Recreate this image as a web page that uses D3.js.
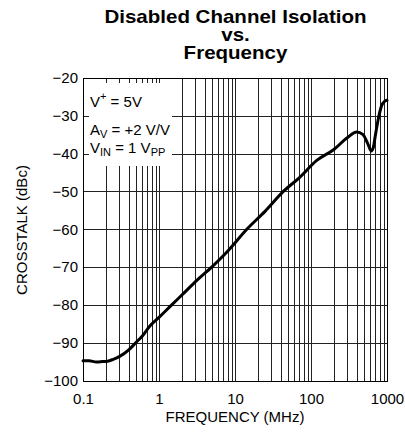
<!DOCTYPE html>
<html>
<head>
<meta charset="utf-8">
<script src="https://cdn.jsdelivr.net/npm/d3@7"></script>
<style>
  html, body { margin: 0; padding: 0; background: #fff; }
  svg { display: block; font-family: "Liberation Sans", Arial, Helvetica, sans-serif; }
</style>
</head>
<body>
<svg id="chart" width="405" height="439"></svg>
<script>
// Crosstalk of a disabled channel versus frequency
const freqMHz = [0.1, 0.12, 0.15, 0.18, 0.21, 0.25, 0.3, 0.4, 0.5, 0.6, 0.75, 1, 1.47, 2, 3, 4.93, 8, 14.3, 25, 43.3, 70, 119, 200, 300, 400, 480, 560, 620, 660, 700, 770, 850, 930, 1000];
const crosstalkDb = [-94.8, -94.8, -95.1, -95.0, -94.9, -94.4, -93.7, -91.9, -89.9, -88.3, -85.7, -83.3, -80, -77.4, -73.9, -70, -65.8, -60, -55.2, -50, -46.4, -41.8, -38.9, -35.8, -34.3, -34.9, -37.4, -39.3, -38.4, -35.4, -30.7, -27.3, -26.2, -25.9];

const xTickValues = [0.1, 1, 10, 100, 1000];
const xTickLabels = ["0.1", "1", "10", "100", "1000"];
const yTickValues = [-20, -30, -40, -50, -60, -70, -80, -90, -100];

const titleLines = ["Disabled Channel Isolation", "vs.", "Frequency"];

const plot = { left: 83, right: 387, top: 78, bottom: 380.5 };

const svg = d3.select("#chart");
svg.append("rect").attr("width", 405).attr("height", 439).attr("fill", "#fff");

const x = d3.scaleLog().domain([0.1, 1000]).range([plot.left, plot.right]);
const y = d3.scaleLinear().domain([-100, -20]).range([plot.bottom, plot.top]);

// grid: every 1-9 multiple per decade, every 10 dB
const grid = svg.append("g").attr("stroke", "#222").attr("stroke-width", 1).attr("shape-rendering", "crispEdges");
grid.selectAll("line.v").data(x.ticks()).join("line")
  .attr("x1", d => Math.round(x(d)) + 0.5).attr("x2", d => Math.round(x(d)) + 0.5)
  .attr("y1", plot.top).attr("y2", plot.bottom);
grid.selectAll("line.h").data(yTickValues).join("line")
  .attr("y1", d => Math.round(y(d)) + 0.5).attr("y2", d => Math.round(y(d)) + 0.5)
  .attr("x1", plot.left).attr("x2", plot.right);

// frame
svg.append("rect")
  .attr("x", plot.left + 0.5).attr("y", Math.round(plot.top) + 0.5)
  .attr("width", plot.right - plot.left).attr("height", Math.round(plot.bottom) - Math.round(plot.top))
  .attr("fill", "none").attr("stroke", "#000").attr("stroke-width", 1.2)
  .attr("shape-rendering", "crispEdges");

// conditions box
svg.append("rect")
  .attr("x", 89).attr("y", 83).attr("width", 83).attr("height", 83)
  .attr("fill", "#fff");

const cond = svg.append("g").attr("font-size", 15).attr("fill", "#000");
const t1 = cond.append("text").attr("x", 90).attr("y", 106.5);
t1.append("tspan").text("V");
t1.append("tspan").attr("dy", -7).attr("font-size", 11).text("+");
t1.append("tspan").attr("dy", 7).text(" = 5V");

const t2 = cond.append("text").attr("x", 90).attr("y", 135);
t2.append("tspan").text("A");
t2.append("tspan").attr("dy", 3).attr("font-size", 11).text("V");
t2.append("tspan").attr("dy", -3).text(" = +2 V/V");

const t3 = cond.append("text").attr("x", 90).attr("y", 153);
t3.append("tspan").text("V");
t3.append("tspan").attr("dy", 3).attr("font-size", 11).text("IN");
t3.append("tspan").attr("dy", -3).text(" = 1 V");
t3.append("tspan").attr("dy", 3).attr("font-size", 11).text("PP");

// curve
const line = d3.line()
  .x((d, i) => x(freqMHz[i]))
  .y(d => y(d))
  .curve(d3.curveMonotoneX);
svg.append("path")
  .datum(crosstalkDb)
  .attr("d", line)
  .attr("fill", "none")
  .attr("stroke", "#000")
  .attr("stroke-width", 3)
  .attr("stroke-linejoin", "round")
  .attr("stroke-linecap", "round");

// axes labels
const xAxis = d3.axisBottom(x).tickValues(xTickValues)
  .tickFormat((d, i) => xTickLabels[i]).tickSize(0).tickPadding(13);
const gx = svg.append("g").attr("transform", `translate(0,${plot.bottom})`).call(xAxis);
gx.select(".domain").remove();
gx.selectAll("text").attr("font-size", 15).attr("font-family", null).attr("fill", "#000");

const yAxis = d3.axisLeft(y).tickValues(yTickValues).tickSize(0).tickPadding(5);
const gy = svg.append("g").attr("transform", `translate(${plot.left},0)`).call(yAxis);
gy.select(".domain").remove();
gy.selectAll("text").attr("font-size", 15).attr("font-family", null).attr("fill", "#000");

svg.append("text")
  .attr("x", 235).attr("y", 422)
  .attr("text-anchor", "middle").attr("font-size", 15)
  .text("FREQUENCY (MHz)");

svg.append("text")
  .attr("transform", "translate(26.5,230) rotate(-90)")
  .attr("text-anchor", "middle").attr("font-size", 15)
  .text("CROSSTALK (dBc)");

// title, three centred lines, drawn slightly wide
const title = svg.append("text")
  .attr("transform", "translate(235.5,0) scale(1.14,1)")
  .attr("text-anchor", "middle")
  .attr("font-size", 18).attr("font-weight", "bold");
title.selectAll("tspan").data(titleLines).join("tspan")
  .attr("x", 0).attr("y", (d, i) => 23.5 + i * 18)
  .text(d => d);
</script>
</body>
</html>
